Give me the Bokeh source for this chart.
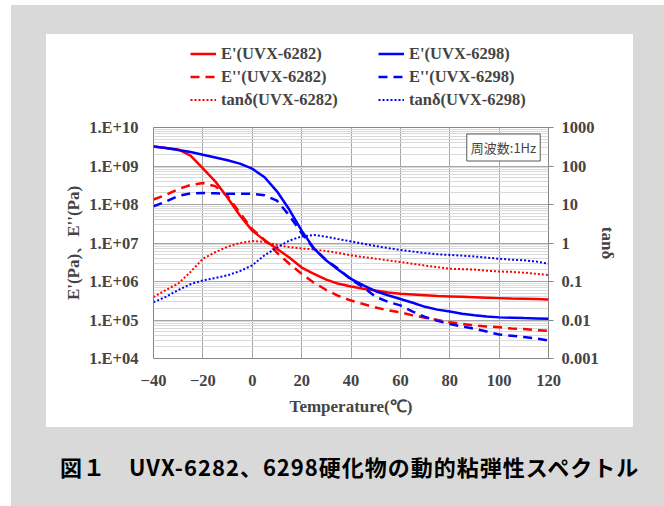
from bokeh.plotting import figure
from bokeh.models import (Range1d, LogAxis, FixedTicker, Legend, LegendItem, Label, LogScale, Div)
from bokeh.layouts import column, row
from bokeh.embed import file_html
from bokeh.resources import INLINE

# ---------------- data ----------------
temperature = [-40, -35, -30, -25, -20, -15, -10, -5, 0, 5, 10, 15, 20, 25, 30, 35, 40,
               45, 50, 55, 60, 65, 70, 75, 80, 85, 90, 95, 100, 105, 110, 115, 120]

e1_6282 = [3.2e9, 2.95e9, 2.7e9, 1.85e9, 8.7e8, 4.0e8, 1.5e8, 5.2e7, 2.1e7, 1.17e7, 7.1e6,
           4.2e6, 2.3e6, 1.58e6, 1.12e6, 8.7e5, 7.4e5, 6.5e5, 5.8e5, 5.2e5, 4.8e5, 4.6e5,
           4.4e5, 4.2e5, 4.1e5, 4.0e5, 3.9e5, 3.8e5, 3.7e5, 3.6e5, 3.55e5, 3.5e5, 3.4e5]
e2_6282 = [1.35e8, 1.78e8, 2.5e8, 3.2e8, 3.6e8, 3.0e8, 1.66e8, 6.0e7, 2.3e7, 1.2e7, 5.6e6,
           2.9e6, 1.58e6, 9.3e5, 6.0e5, 4.2e5, 3.2e5, 2.6e5, 2.1e5, 1.78e5, 1.58e5, 1.32e5,
           1.15e5, 1.0e5, 8.7e4, 7.9e4, 7.2e4, 6.8e4, 6.5e4, 6.0e4, 5.8e4, 5.5e4, 5.2e4]
tan_6282 = [0.039, 0.06, 0.088, 0.178, 0.39, 0.575, 0.8, 1.0, 1.12, 1.07, 0.89, 0.78, 0.72,
            0.68, 0.62, 0.55, 0.48, 0.43, 0.39, 0.355, 0.32, 0.29, 0.26, 0.235, 0.214,
            0.209, 0.204, 0.19, 0.182, 0.178, 0.17, 0.158, 0.148]

e1_6298 = [3.2e9, 2.95e9, 2.6e9, 2.3e9, 1.95e9, 1.66e9, 1.41e9, 1.15e9, 8.5e8, 5.1e8, 2.2e8,
           7.4e7, 2.1e7, 7.2e6, 3.5e6, 2.0e6, 1.17e6, 7.9e5, 5.6e5, 4.4e5, 3.5e5, 2.8e5,
           2.2e5, 1.86e5, 1.66e5, 1.45e5, 1.32e5, 1.23e5, 1.17e5, 1.15e5, 1.12e5, 1.1e5, 1.07e5]
e2_6298 = [8.9e7, 1.2e8, 1.66e8, 1.95e8, 2.0e8, 1.95e8, 1.9e8, 1.9e8, 1.9e8, 1.74e8, 1.26e8,
           5.2e7, 1.8e7, 7.1e6, 3.6e6, 2.1e6, 1.12e6, 7.1e5, 4.0e5, 2.95e5, 2.4e5, 1.66e5,
           1.2e5, 9.5e4, 7.9e4, 6.8e4, 5.9e4, 5.0e4, 4.2e4, 3.9e4, 3.6e4, 3.3e4, 2.95e4]
tan_6298 = [0.029, 0.04, 0.06, 0.085, 0.107, 0.123, 0.145, 0.186, 0.263, 0.48, 0.76, 1.15,
            1.48, 1.62, 1.45, 1.26, 1.10, 0.955, 0.83, 0.74, 0.66, 0.6, 0.55, 0.51, 0.49,
            0.47, 0.447, 0.417, 0.39, 0.37, 0.355, 0.33, 0.29]

x_ticks = [-40, -20, 0, 20, 40, 60, 80, 100, 120]
e_ticks = [1e4, 1e5, 1e6, 1e7, 1e8, 1e9, 1e10]
e_tick_labels = ["1.E+04", "1.E+05", "1.E+06", "1.E+07", "1.E+08", "1.E+09", "1.E+10"]
tan_ticks = [0.001, 0.01, 0.1, 1, 10, 100, 1000]
tan_tick_labels = ["0.001", "0.01", "0.1", "1", "10", "100", "1000"]

legend_6282 = ["E'(UVX-6282)", "E''(UVX-6282)", "tanδ(UVX-6282)"]
legend_6298 = ["E'(UVX-6298)", "E''(UVX-6298)", "tanδ(UVX-6298)"]
caption = "図１　UVX-6282、6298硬化物の動的粘弾性スペクトル"
freq_note = "周波数:1Hz"

# ---------------- styling ----------------
SERIF = "Liberation Serif"
RED = "#ff0000"
BLUE = "#0000ff"
GRID = "#a6a6a6"
MINOR = "#d9d9d9"
GRAY_BG = "#d9d9d9"
AXIS = "#868686"

series_styles = [
    (RED, 2.5, "solid"), (RED, 2.5, "9 6"), (RED, 2, "2 2"),
    (BLUE, 2.5, "solid"), (BLUE, 2.5, "9 6"), (BLUE, 2, "2 2"),
]
data_series = [(e1_6282, "default"), (e2_6282, "default"), (tan_6282, "tan"),
               (e1_6298, "default"), (e2_6298, "default"), (tan_6298, "tan")]

# ---------------- main chart ----------------
p = figure(width=587, height=315, x_range=Range1d(-40, 120), y_range=Range1d(1e4, 1e10),
           y_axis_type="log", output_backend="svg", toolbar_location=None, title=None,
           tools="", min_border_left=107, min_border_right=85, min_border_top=15,
           min_border_bottom=69, margin=0, border_fill_color=None, background_fill_color=None)
p.outline_line_color = AXIS
p.outline_line_width = 1

p.extra_y_ranges = {"tan": Range1d(1e-3, 1e3)}
p.extra_y_scales = {"tan": LogScale()}

xa = p.xaxis[0]
xa.ticker = FixedTicker(ticks=x_ticks)
xa.axis_label = "Temperature(℃)"
xa.axis_label_text_font = SERIF
xa.axis_label_text_font_style = "bold"
xa.axis_label_text_font_size = "17px"
xa.axis_label_standoff = 8
xa.major_label_text_font = SERIF
xa.major_label_text_font_style = "bold"
xa.major_label_text_font_size = "16.5px"
xa.major_label_standoff = 10
xa.major_tick_line_color = None
xa.minor_tick_line_color = None
xa.axis_line_color = None

minor_e = [k * 10 ** n for n in range(4, 10) for k in range(2, 10)]
ya = p.yaxis[0]
ya.ticker = FixedTicker(ticks=e_ticks, minor_ticks=minor_e)
ya.major_label_overrides = {t: l for t, l in zip(e_ticks, e_tick_labels)}
ya.axis_label = "E'(Pa)、E''(Pa)"
ya.axis_label_text_font = SERIF
ya.axis_label_text_font_style = "bold"
ya.axis_label_text_font_size = "17px"
ya.axis_label_standoff = 3
ya.major_label_text_font = SERIF
ya.major_label_text_font_style = "bold"
ya.major_label_text_font_size = "16.5px"
ya.major_label_standoff = 9
ya.major_tick_line_color = None
ya.minor_tick_line_color = None
ya.axis_line_color = None

ra = LogAxis(y_range_name="tan", ticker=FixedTicker(ticks=tan_ticks))
ra.major_label_overrides = {t: l for t, l in zip(tan_ticks, tan_tick_labels)}
ra.axis_label = "tanδ"
ra.axis_label_text_font = SERIF
ra.axis_label_text_font_style = "bold"
ra.axis_label_text_font_size = "17px"
ra.axis_label_standoff = -4
ra.major_label_text_font = SERIF
ra.major_label_text_font_style = "bold"
ra.major_label_text_font_size = "16.5px"
ra.major_label_standoff = 8
ra.major_tick_in = 0
ra.major_tick_out = 5
ra.major_tick_line_color = AXIS
ra.minor_tick_line_color = None
ra.axis_line_color = None
p.add_layout(ra, "right")

p.xgrid.grid_line_color = GRID
p.ygrid.grid_line_color = GRID
p.ygrid.minor_grid_line_color = MINOR

for (vals, rng), (col, lw, dash) in zip(data_series, series_styles):
    p.line(temperature, vals, line_color=col, line_width=lw, line_dash=dash, y_range_name=rng)

p.add_layout(Label(x=350, y=211, x_units="screen", y_units="screen", text=freq_note,
                   text_font="Noto Sans CJK JP", text_font_size="13px", text_align="center",
                   text_baseline="middle", border_line_color="#595959", border_line_width=1,
                   background_fill_color="white", padding=4))

# ---------------- legend strip (above the chart; frame aligned with chart) -------------
# The same series are drawn here only to provide legend samples; the strip's ranges are
# chosen so that none of the data falls inside it.
leg = figure(width=587, height=78, x_range=Range1d(1000, 1001), y_range=Range1d(1000, 1001),
             x_axis_type=None, y_axis_type=None, min_border=0, toolbar_location=None,
             tools="", title=None, output_backend="svg", margin=0,
             border_fill_color=None, background_fill_color=None)
leg.outline_line_color = None
samples = [leg.line(temperature, vals, line_color=col, line_width=lw, line_dash=dash)
           for (vals, _), (col, lw, dash) in zip(data_series, series_styles)]


def make_legend(renderers, labels, x):
    lg = Legend(items=[LegendItem(label=l, renderers=[r]) for l, r in zip(labels, renderers)],
                location=(x, 1))
    lg.border_line_color = None
    lg.background_fill_alpha = 0
    lg.padding = 0
    lg.margin = 0
    lg.spacing = 0
    lg.glyph_width = 26
    lg.glyph_height = 23
    lg.label_height = 23
    lg.label_standoff = 5
    lg.label_text_font = SERIF
    lg.label_text_font_style = "bold"
    lg.label_text_font_size = "16.5px"
    return lg


leg.add_layout(make_legend(samples[:3], legend_6282, 37))
leg.add_layout(make_legend(samples[3:], legend_6298, 225))


# ---------------- gray frame strips and caption ----------------
def strip(w, h):
    return Div(text="", width=w, height=h, margin=0, styles={"background-color": GRAY_BG})


cap = Div(text=('<div style="font-family:\'Noto Sans CJK JP\';font-weight:bold;font-size:22px;'
                'letter-spacing:1px;line-height:22px;padding-top:28px;padding-left:49px;'
                'white-space:nowrap;color:#000;">' + caption + '</div>'),
          width=653, height=79, margin=0, styles={"background-color": GRAY_BG})

panel = column(leg, p, spacing=0, margin=0, styles={"background-color": "white"})
middle = row(strip(35, 393), panel, strip(31, 393), spacing=0, margin=0)
layout = column(strip(653, 29), middle, cap, margin=(5, 0, 0, 11), spacing=0)

open("out.html", "w").write(file_html(layout, INLINE))
